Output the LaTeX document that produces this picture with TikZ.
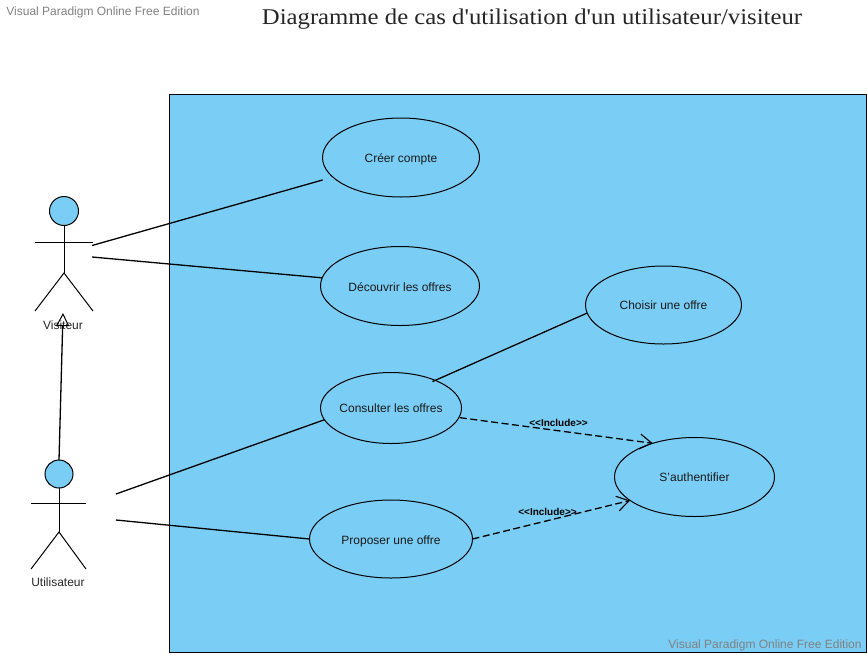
\documentclass[tikz,border=0pt]{standalone}
\usepackage{fontspec}
\setmainfont{Liberation Sans}
\newfontfamily\titlefont[FakeStretch=1.1]{Liberation Serif}
\usetikzlibrary{arrows.meta,shapes.geometric}
\definecolor{bluefill}{HTML}{7ACEF6}
\definecolor{wmgray}{HTML}{808080}
\newcommand{\uctext}[2][-4pt]{\raisebox{#1}[0pt][0pt]{\makebox[0pt]{#2}}}
\tikzset{
  usecase/.style={draw=black,fill=bluefill,ellipse,inner sep=0pt,outer sep=0pt,line width=1pt,text=black!90,font=\fontsize{12}{14}\selectfont},
  actorhead/.style={draw=black,fill=bluefill,circle,inner sep=0pt,outer sep=0pt,line width=1pt},
  limb/.style={draw=black,line width=1pt},
  assoc/.style={draw=black,line width=1.3pt},
  incl/.style={draw=black,line width=1.3pt,dash pattern=on 7pt off 3.5pt,-{Straight Barb[length=12pt,width=15pt,line width=1.1pt]}},
  gener/.style={draw=black,line width=1.3pt,-{Triangle[open,length=13pt,width=13pt,line width=1pt]}},
  lbl/.style={inner sep=0pt,text=black!85,font=\fontsize{12}{14}\selectfont},
  incllbl/.style={inner sep=0pt,font=\fontsize{10}{12}\selectfont\bfseries},
  wm/.style={inner sep=0pt,text=wmgray,font=\fontsize{12}{14}\selectfont},
}
\begin{document}
\begin{tikzpicture}[x=1pt,y=-1pt]
\useasboundingbox (0,0) rectangle (867,654);
\node[wm] (wmtop) at (103,12) {Visual Paradigm Online Free Edition};
\node[inner sep=0pt,text=black!85,font=\titlefont\fontsize{22.5}{26}\selectfont] (title) at (532,19.5) {Diagramme de cas d'utilisation d'un utilisateur/visiteur};
\draw[black,fill=bluefill,line width=1pt] (169.5,94) rectangle (866.5,652.5);
\node[wm] (wmbot) at (765,645) {Visual Paradigm Online Free Edition};
% use cases
\node[usecase,minimum width=157pt,minimum height=79pt] (creer) at (401,157.5) {\uctext[-4.5pt]{Créer compte}};
\node[usecase,minimum width=159pt,minimum height=79pt] (decouvrir) at (400,286) {\uctext[-5pt]{Découvrir les offres}};
\node[usecase,minimum width=156pt,minimum height=78pt] (choisir) at (663.5,305) {\uctext{Choisir une offre}};
\node[usecase,minimum width=141pt,minimum height=71pt] (consulter) at (391,408) {\uctext{Consulter les offres}};
\node[usecase,minimum width=160pt,minimum height=79pt] (auth) at (694.5,477) {\uctext[-4.5pt]{S'authentifier}};
\node[usecase,minimum width=163pt,minimum height=78pt] (proposer) at (391,539) {\uctext[-5pt]{Proposer une offre}};
% actor Visiteur
\node[actorhead,minimum size=29pt] (vhead) at (64,211) {};
\coordinate (vhip) at (64,273);
\coordinate (varml) at (35,242);
\coordinate (varmr) at (93,242);
\coordinate (vfootl) at (35,311);
\coordinate (vfootr) at (93,311);
\draw[limb] (vhead) -- (vhip);
\draw[limb] (varml) -- (varmr);
\draw[limb] (vfootl) -- (vhip) -- (vfootr);
\node[lbl] (vlabel) at (63,325) {Visiteur};
% actor Utilisateur
\node[actorhead,minimum size=28pt] (uhead) at (59,474) {};
\coordinate (uhip) at (59,532);
\coordinate (uarml) at (31,503);
\coordinate (uarmr) at (86,503);
\coordinate (ufootl) at (31,569);
\coordinate (ufootr) at (86,569);
\draw[limb] (uhead) -- (uhip);
\draw[limb] (uarml) -- (uarmr);
\draw[limb] (ufootl) -- (uhip) -- (ufootr);
\node[lbl] (ulabel) at (58,582) {Utilisateur};
% connector ends
\coordinate (va) at (92,245.5);
\coordinate (vb) at (92,257);
\coordinate (ua) at (116,494);
\coordinate (ub) at (116,520);
\coordinate (gtip) at (63,313);
% connectors
\draw[assoc,shorten >=10.5pt] (va) -- (creer.196.4);
\draw[assoc] (vb) -- (decouvrir.174.3);
\draw[assoc] (ua) -- (consulter.190.6);
\draw[assoc] (ub) -- (proposer.180);
\draw[assoc,shorten <=-3pt] (consulter.32.7) -- (choisir.186.6);
\draw[gener] (uhead.north) -- (gtip);
\draw[incl,shorten <=1pt] (consulter.-8) -- (auth.141);
\draw[incl] (proposer.0) -- (auth.200.7);
\node[incllbl] (il1) at (558.5,422.5) {<{}<Include>{}>};
\node[incllbl] (il2) at (547.5,511.5) {<{}<Include>{}>};
\end{tikzpicture}
\end{document}
